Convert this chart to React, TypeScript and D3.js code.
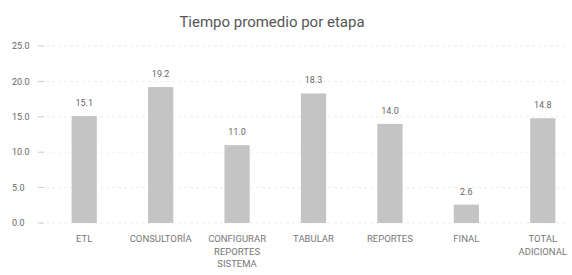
import * as React from 'react';
import * as d3 from 'd3';

const categories = [
  ['ETL'],
  ['CONSULTORÍA'],
  ['CONFIGURAR', 'REPORTES', 'SISTEMA'],
  ['TABULAR'],
  ['REPORTES'],
  ['FINAL'],
  ['TOTAL', 'ADICIONAL'],
];
const values = [15.1, 19.2, 11.0, 18.3, 14.0, 2.6, 14.8];
const yTicks = [0, 5, 10, 15, 20, 25];

export default function App() {
  const ref = React.useRef<SVGSVGElement | null>(null);

  React.useEffect(() => {
    if (!ref.current) return;
    const svg = d3.select(ref.current);
    svg.selectAll('*').remove();
    const font = 'Roboto, "DejaVu Sans", sans-serif';

    const keys = categories.map((c, i) => String(i));
    const x = d3.scaleBand<string>()
      .domain(keys)
      .range([46, 581])
      .paddingInner(0.67)
      .paddingOuter(0.335);
    const y = d3.scaleLinear().domain([0, 25]).range([223, 46]);

    svg.append('text')
      .attr('x', 272).attr('y', 27)
      .attr('text-anchor', 'middle')
      .attr('font-family', font).attr('font-size', 15)
      .attr('fill', '#555')
      .text('Tiempo promedio por etapa');

    const grid = svg.append('g');
    yTicks.forEach(t => {
      grid.append('line')
        .attr('x1', 40).attr('x2', 566)
        .attr('y1', y(t)).attr('y2', y(t))
        .attr('stroke', '#eee').attr('stroke-dasharray', '3,3');
      grid.append('line')
        .attr('x1', 38).attr('x2', 44)
        .attr('y1', y(t)).attr('y2', y(t))
        .attr('stroke', '#ccc');
      grid.append('text')
        .attr('x', 12).attr('y', y(t)).attr('dy', '0.35em')
        .attr('font-family', font).attr('font-size', 9)
        .attr('fill', '#666')
        .text(t.toFixed(1));
    });

    const bars = svg.append('g');
    values.forEach((v, i) => {
      const bx = x(keys[i]) ?? 0;
      bars.append('rect')
        .attr('x', bx).attr('y', y(v))
        .attr('width', x.bandwidth()).attr('height', y(0) - y(v))
        .attr('fill', '#c4c4c4');
      bars.append('text')
        .attr('x', bx + x.bandwidth() / 2).attr('y', y(v) - 10)
        .attr('text-anchor', 'middle')
        .attr('font-family', font).attr('font-size', 9)
        .attr('fill', '#666')
        .text(v.toFixed(1));
      const lbl = bars.append('text')
        .attr('x', bx + x.bandwidth() / 2).attr('y', y(0) + 19)
        .attr('text-anchor', 'middle')
        .attr('font-family', font).attr('font-size', 9.5)
        .attr('fill', '#777');
      categories[i].forEach((line, j) => {
        lbl.append('tspan')
          .attr('x', bx + x.bandwidth() / 2)
          .attr('dy', j === 0 ? 0 : 12.5)
          .text(line);
      });
    });
  }, []);

  return (
    <svg ref={ref} width={572} height={275}
      style={{ position: 'absolute', left: 0, top: 0, background: '#fff' }} />
  );
}
